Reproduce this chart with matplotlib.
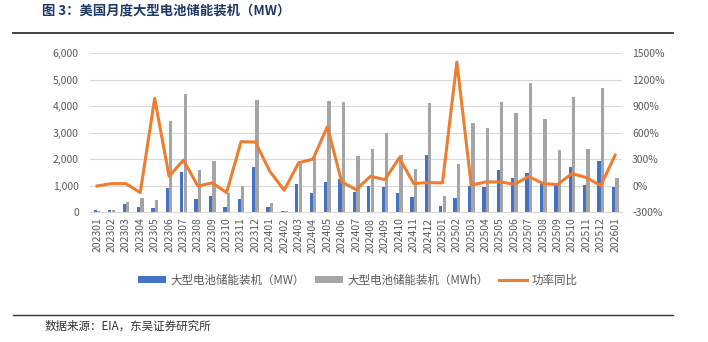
import numpy as np
import matplotlib.pyplot as plt
from matplotlib.ticker import FuncFormatter

plt.rcParams['font.family'] = ['Noto Sans CJK SC', 'DejaVu Sans']

months = ['202301', '202302', '202303', '202304', '202305', '202306', '202307',
          '202308', '202309', '202310', '202311', '202312', '202401', '202402',
          '202403', '202404', '202405', '202406', '202407', '202408', '202409',
          '202410', '202411', '202412', '202501', '202502', '202503', '202504',
          '202505', '202506', '202507', '202508', '202509', '202510', '202511',
          '202512', '202601']
mw = [60, 90, 300, 190, 150, 910, 1500, 490, 620, 190, 480, 1690, 180, 40,
      1050, 700, 1150, 1240, 760, 970, 950, 730, 570, 2150, 230, 540,
      1000, 930, 1570, 1300, 1460, 1050, 1020, 1690, 1020, 1920, 950]
mwh = [50, 80, 380, 540, 440, 3450, 4460, 1570, 1910, 720, 1000, 4230, 340, 50,
       1810, 2110, 4190, 4150, 2110, 2370, 2970, 2170, 1620, 4130, 610, 1830,
       3350, 3160, 4150, 3750, 4860, 3500, 2350, 4330, 2390, 4680, 1290]
yoy = [-5, 22, 22, -80, 988, 105, 287, -5, 30, -80, 496, 492, 162, -54,
       257, 299, 666, 41, -46, 105, 67, 314, 22, 33, 30, 1397,
       3, 41, 41, 14, 102, 22, 11, 136, 90, 0, 344]

c_blue = '#4472C4'
c_gray = '#A5A5A5'
c_orange = '#ED7D31'
c_text = '#595959'

fig = plt.figure(figsize=(7.08, 3.42), dpi=100)
ax = fig.add_axes([0.127, 0.380, 0.752, 0.465])
ax2 = ax.twinx()

x = np.arange(len(months))
w = 0.23
b1 = ax.bar(x - 0.12, mw, width=w, color=c_blue, zorder=2)
b2 = ax.bar(x + 0.12, mwh, width=w, color=c_gray, zorder=2)
l1, = ax2.plot(x, yoy, color=c_orange, lw=2.2, zorder=3)

ax.set_xlim(-0.5, len(months) - 0.5)
ax.set_ylim(0, 6000)
ax.set_yticks(range(0, 6001, 1000))
ax.yaxis.set_major_formatter(FuncFormatter(lambda v, p: f'{int(v):,}'))
ax2.set_ylim(-300, 1500)
ax2.set_yticks(range(-300, 1501, 300))
ax2.yaxis.set_major_formatter(FuncFormatter(lambda v, p: f'{int(v)}%'))

ax.set_xticks(x)
ax.set_xticklabels(months, rotation=90)
ax.grid(axis='y', color='#D9D9D9', lw=0.8, zorder=0)
ax.set_axisbelow(True)

for a in (ax, ax2):
    for s in a.spines.values():
        s.set_visible(False)
    a.tick_params(length=0, labelsize=7.5, labelcolor=c_text)
ax.spines['bottom'].set_visible(True)
ax.spines['bottom'].set_color('#D9D9D9')
ax.tick_params(axis='y', pad=8)
ax2.tick_params(axis='y', pad=7)
ax.tick_params(axis='x', pad=4)

fig.legend([b1, b2, l1],
           ['大型电池储能装机（MW）', '大型电池储能装机（MWh）', '功率同比'],
           loc='center', bbox_to_anchor=(0.505, 0.181), ncol=3, frameon=False,
           fontsize=8.3, labelcolor=c_text, handlelength=2.4, handleheight=0.6,
           columnspacing=0.9, handletextpad=0.4)

fig.text(0.059, 0.967, '图 3：美国月度大型电池储能装机（MW）', fontsize=9.6,
         fontweight='bold', color='#1F3864', va='center')
fig.add_artist(plt.Line2D([0.018, 0.951], [0.904, 0.904], color='#333333', lw=1.3))
fig.add_artist(plt.Line2D([0.018, 0.951], [0.079, 0.079], color='#333333', lw=1.0))
fig.text(0.063, 0.045, '数据来源：EIA，东吴证券研究所', fontsize=8.3,
         color='#333333', va='center')

fig.savefig('out.png', dpi=100)
